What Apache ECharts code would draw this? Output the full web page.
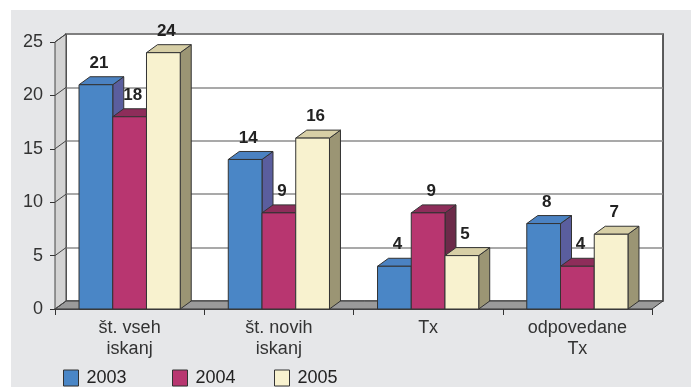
<!DOCTYPE html>
<html>
<head>
<meta charset="utf-8">
<script src="https://cdn.jsdelivr.net/npm/echarts@6/dist/echarts.min.js"></script>
<style>
  html, body { margin: 0; padding: 0; background: #ffffff; }
  #panel { position: absolute; left: 11px; top: 10px; width: 680px; height: 377px; background: #e6e7e9; }
  #chart { position: absolute; left: 0; top: 0; width: 691px; height: 389px; }
</style>
</head>
<body>
<div id="panel"></div>
<div id="chart"></div>
<script>
// Categories and yearly counts
const categories = ['št. vseh\niskanj', 'št. novih\niskanj', 'Tx', 'odpovedane\nTx'];
const years = ['2003', '2004', '2005'];
const values2003 = [21, 14, 4, 8];
const values2004 = [18, 9, 9, 4];
const values2005 = [24, 16, 5, 7];
const yTicks = [0, 5, 10, 15, 20, 25];

const FONT = '"Liberation Sans", Arial, Helvetica, sans-serif';
const DX = 11, DY = 8;           // depth offset of the 3D box
const BAR_FRACTION = 0.226;      // bar width relative to category band

// front / top / side shades for each year
const palette = [
  { front: '#4a86c6', top: '#4b82c2', side: '#5a5e9e' },
  { front: '#b83670', top: '#8e2d5a', side: '#6c2a49' },
  { front: '#f8f2cf', top: '#d7cfa6', side: '#9b9574' }
];

const chart = echarts.init(document.getElementById('chart'), null, { renderer: 'canvas' });

function wallsRender(params, api) {
  const band = api.size([1, 0])[0];
  const c0 = api.coord([0, 0]);
  const left = c0[0] - band / 2;
  const right = left + band * categories.length;
  const bottom = c0[1];
  const top = api.coord([0, yTicks[yTicks.length - 1]])[1];
  const children = [
    { type: 'polygon', shape: { points: [[left, bottom], [right, bottom], [right + DX, bottom - DY], [left + DX, bottom - DY]] },
      style: { fill: '#9a9a9a', stroke: '#333', lineWidth: 1 } },
    { type: 'polygon', shape: { points: [[left, bottom], [left, top], [left + DX, top - DY], [left + DX, bottom - DY]] },
      style: { fill: '#d3d3d3', stroke: '#444', lineWidth: 1 } }
  ];
  yTicks.forEach(function (t) {
    const y = api.coord([0, t])[1];
    children.push({ type: 'line', shape: { x1: left, y1: y, x2: left + DX, y2: y - DY },
      style: { stroke: '#444', lineWidth: 1 } });
  });
  return { type: 'group', children: children };
}

function barRenderer(k) {
  const col = palette[k];
  return function (params, api) {
    const ci = api.value(0), v = api.value(1);
    const base = api.coord([ci, 0]);
    const topP = api.coord([ci, v]);
    const band = api.size([1, 0])[0];
    const bw = band * BAR_FRACTION;
    const x0 = base[0] + (k - 1) * bw - bw / 2;
    const x1 = x0 + bw;
    const yt = topP[1], yb = base[1];
    const stroke = { stroke: '#333', lineWidth: 1, lineJoin: 'round' };
    return {
      type: 'group',
      children: [
        { type: 'polygon', shape: { points: [[x1, yt], [x1 + DX, yt - DY], [x1 + DX, yb - DY], [x1, yb]] },
          style: Object.assign({ fill: col.side }, stroke) },
        { type: 'polygon', shape: { points: [[x0, yt], [x0 + DX, yt - DY], [x1 + DX, yt - DY], [x1, yt]] },
          style: Object.assign({ fill: col.top }, stroke) },
        { type: 'rect', shape: { x: x0, y: yt, width: bw, height: yb - yt },
          style: Object.assign({ fill: col.front }, stroke) },
        { type: 'text', z2: 100,
          style: { text: String(v), x: x0 + bw / 2 + 3, y: yt - 13, align: 'center', verticalAlign: 'bottom',
                   font: 'bold 17px ' + FONT, fill: '#222' } }
      ]
    };
  };
}

const seriesData = [values2003, values2004, values2005];

const legends = years.map(function (y, i) {
  return {
    data: [y], left: [63, 172, 274][i], top: 369, padding: 0,
    icon: 'rect', itemWidth: 15, itemHeight: 16,
    itemStyle: { borderColor: '#333', borderWidth: 1 },
    textStyle: { fontSize: 18, fontFamily: FONT, color: '#222', padding: [0, 0, 0, 3] },
    selectedMode: false
  };
});

const option = {
  animation: false,
  legend: legends,
  grid: [
    { left: 55, right: 39, top: 42, bottom: 80 },
    { left: 55 + DX, right: 39 - DX, top: 42 - DY, bottom: 80 + DY, show: true,
      backgroundColor: '#ffffff', borderColor: '#2a2a2a', borderWidth: 1.5, z: 0 }
  ],
  xAxis: [
    { type: 'category', gridIndex: 0, data: categories,
      axisLine: { show: true, lineStyle: { color: '#222', width: 1.5 } },
      axisTick: { show: true, length: 6, lineStyle: { color: '#333' } },
      axisLabel: { fontSize: 18, fontFamily: FONT, color: '#333', lineHeight: 21, margin: 9 } },
    { type: 'category', gridIndex: 1, data: categories, show: false }
  ],
  yAxis: [
    { type: 'value', gridIndex: 0, min: 0, max: 25, interval: 5,
      axisLine: { show: true, lineStyle: { color: '#333' } },
      axisTick: { show: true, length: 5, lineStyle: { color: '#333' } },
      splitLine: { show: false },
      axisLabel: { fontSize: 18, fontFamily: FONT, color: '#333', margin: 12 } },
    { type: 'value', gridIndex: 1, min: 0, max: 25, interval: 5,
      axisLine: { show: false }, axisTick: { show: false }, axisLabel: { show: false },
      splitLine: { show: true, lineStyle: { color: '#8c8c8c', width: 1.5 } } }
  ],
  series: [
    { type: 'custom', name: 'walls', xAxisIndex: 0, yAxisIndex: 0, z: 1, silent: true,
      renderItem: wallsRender, data: [[0, 0]] }
  ].concat(years.map(function (y, k) {
    return {
      type: 'custom', name: y, xAxisIndex: 0, yAxisIndex: 0, z: 3,
      itemStyle: { color: palette[k].front },
      renderItem: barRenderer(k),
      encode: { x: 0, y: 1 },
      data: seriesData[k].map(function (v, i) { return [i, v]; })
    };
  }))
};

chart.setOption(option);
</script>
</body>
</html>
